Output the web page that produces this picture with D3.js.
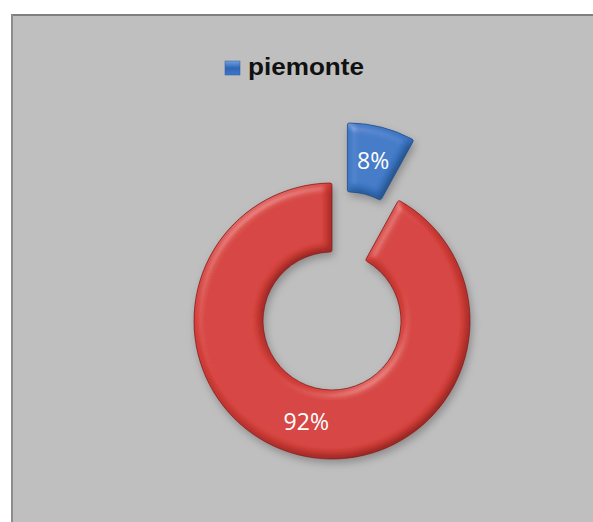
<!DOCTYPE html>
<html>
<head>
<meta charset="utf-8">
<script src="https://cdn.jsdelivr.net/npm/d3@7"></script>
<style>
  html, body { margin: 0; padding: 0; background: #fff; }
  svg { display: block; }
</style>
</head>
<body>
<div id="chart"></div>
<script>
// data
let categories = ["piemonte", ""];
let shares = [8, 92];
let sliceColors = ["#3a77c6", "#d43c37"];
let edgeColors = ["#1f4680", "#7a1a18"];

let width = 593,
    height = 522;

let cx = 332, cy = 321,
    outerR = 138, innerR = 69,
    explode = 62;

let svg = d3.select("#chart").append("svg")
    .attr("width", width)
    .attr("height", height);

let defs = svg.append("defs");

// soft shadow under the slices
let shadow = defs.append("filter").attr("id", "shadow")
    .attr("x", "-20%").attr("y", "-20%").attr("width", "140%").attr("height", "140%");
shadow.append("feDropShadow")
    .attr("dx", 2).attr("dy", 4).attr("stdDeviation", 4)
    .attr("flood-color", "#000").attr("flood-opacity", 0.28);

// bevel look: diffuse shading multiplied in, light specular added
let bevel = defs.append("filter").attr("id", "bevel")
    .attr("x", "-10%").attr("y", "-10%").attr("width", "120%").attr("height", "120%");
bevel.append("feGaussianBlur").attr("in", "SourceAlpha").attr("stdDeviation", 4).attr("result", "blur");
bevel.append("feDiffuseLighting")
    .attr("in", "blur").attr("surfaceScale", 4).attr("diffuseConstant", 1.12)
    .attr("lighting-color", "#ffffff").attr("result", "diff")
    .append("feDistantLight").attr("azimuth", 235).attr("elevation", 62);
bevel.append("feComposite").attr("in", "SourceGraphic").attr("in2", "diff")
    .attr("operator", "arithmetic").attr("k1", 1).attr("k2", 0).attr("k3", 0).attr("k4", 0)
    .attr("result", "shaded");
bevel.append("feSpecularLighting")
    .attr("in", "blur").attr("surfaceScale", 4).attr("specularConstant", 0.25)
    .attr("specularExponent", 25).attr("lighting-color", "#ffffff").attr("result", "spec")
    .append("feDistantLight").attr("azimuth", 235).attr("elevation", 45);
bevel.append("feComposite").attr("in", "spec").attr("in2", "SourceAlpha")
    .attr("operator", "in").attr("result", "specOut");
bevel.append("feComposite").attr("in", "shaded").attr("in2", "specOut")
    .attr("operator", "arithmetic").attr("k1", 0).attr("k2", 1).attr("k3", 0.6).attr("k4", 0)
    .attr("result", "lit");
bevel.append("feComposite").attr("in", "lit").attr("in2", "SourceAlpha").attr("operator", "in");

// blue marker gradient
let mg = defs.append("linearGradient").attr("id", "markerGrad")
    .attr("x1", 0).attr("y1", 0).attr("x2", 0).attr("y2", 1);
mg.append("stop").attr("offset", "0%").attr("stop-color", "#6fa0e0");
mg.append("stop").attr("offset", "50%").attr("stop-color", "#2f66b6");
mg.append("stop").attr("offset", "100%").attr("stop-color", "#3c78cc");

// background panel
svg.append("rect")
    .attr("x", 11).attr("y", 14)
    .attr("width", width - 11).attr("height", height - 14)
    .attr("fill", "#bfbfbf");
svg.append("line")
    .attr("x1", 11).attr("y1", 15).attr("x2", width).attr("y2", 15)
    .attr("stroke", "#7f7f7f").attr("stroke-width", 2);
svg.append("line")
    .attr("x1", 12).attr("y1", 14).attr("x2", 12).attr("y2", height)
    .attr("stroke", "#8c8c8c").attr("stroke-width", 2);

// pie
let pie = d3.pie().sort(null).value(d => d);
let arcs = pie(shares);

let arc = d3.arc()
    .innerRadius(innerR)
    .outerRadius(outerR)
    .cornerRadius(2);

let labelArc = d3.arc()
    .innerRadius(innerR)
    .outerRadius(outerR);

function offset(d, i) {
    if (i !== 0) return [0, 0];
    let a = (d.startAngle + d.endAngle) / 2;
    return [Math.sin(a) * explode, -Math.cos(a) * explode];
}

let g = svg.append("g")
    .attr("transform", "translate(" + cx + "," + cy + ")");

let slices = g.selectAll(".slice")
    .data(arcs)
    .enter().append("g")
    .attr("class", "slice")
    .attr("transform", (d, i) => "translate(" + offset(d, i) + ")");

slices.append("path")
    .attr("d", arc)
    .attr("fill", (d, i) => sliceColors[i])
    .attr("filter", "url(#shadow)");

slices.append("path")
    .attr("d", arc)
    .attr("fill", (d, i) => sliceColors[i])
    .attr("filter", "url(#bevel)");

slices.append("path")
    .attr("d", arc)
    .attr("fill", "none")
    .attr("stroke", (d, i) => edgeColors[i])
    .attr("stroke-opacity", 0.7)
    .attr("stroke-width", 1);

slices.append("text")
    .attr("transform", d => "translate(" + labelArc.centroid(d) + ")")
    .attr("text-anchor", "middle")
    .attr("dy", "0.36em")
    .attr("fill", "#ffffff")
    .style("font-family", "'Open Sans', 'Liberation Sans', sans-serif")
    .style("font-size", "23px")
    .text(d => d.data + "%");

// legend (only named categories)
let legendItems = categories.map((c, i) => ({name: c, color: sliceColors[i]}))
    .filter(d => d.name !== "");

let legend = svg.append("g")
    .attr("transform", "translate(225,61)");

let items = legend.selectAll(".item")
    .data(legendItems)
    .enter().append("g")
    .attr("class", "item");

items.append("rect")
    .attr("width", 15).attr("height", 14)
    .attr("fill", "url(#markerGrad)")
    .attr("stroke", "#2a5aa0").attr("stroke-width", 0.5);

items.append("text")
    .attr("x", 23).attr("y", 14)
    .attr("fill", "#111")
    .style("font-family", "'Liberation Sans', Arial, sans-serif")
    .style("font-weight", "bold")
    .style("font-size", "23px")
    .attr("textLength", 116)
    .attr("lengthAdjust", "spacingAndGlyphs")
    .text(d => d.name);
</script>
</body>
</html>
